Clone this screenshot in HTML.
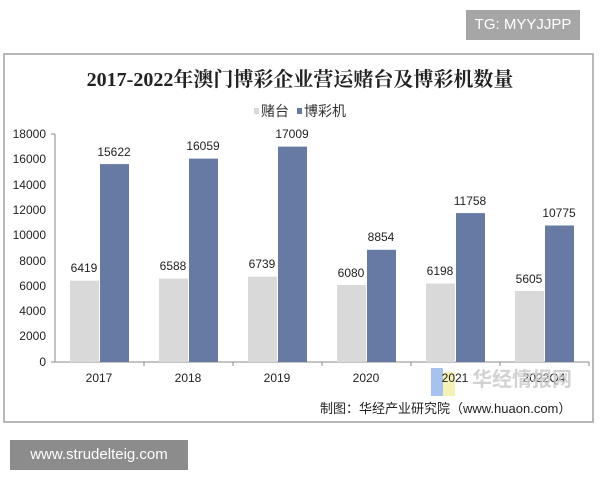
<!DOCTYPE html><html><head><meta charset="utf-8"><style>
body{margin:0;width:600px;height:480px;background:#fff;position:relative;overflow:hidden;font-family:"Liberation Sans","Noto Sans CJK SC",sans-serif}
.tg{position:absolute;left:466px;top:10px;width:114px;height:30px;background:#a6a6a6;color:#fff;font-size:15px;line-height:30px;text-align:center}
.wm{position:absolute;left:10px;top:440px;width:178px;height:30px;background:#8c8c8c;color:#fff;font-size:15px;line-height:30px;text-align:center}
</style></head><body>
<div class="tg">TG: MYYJJPP</div>
<svg width="600" height="480" style="position:absolute;left:0;top:0" font-family="Liberation Sans, Noto Sans CJK SC, sans-serif">
<rect x="4" y="54" width="589" height="368" fill="#fff" stroke="#a0a0a0" stroke-width="1.5"/>
<text x="300" y="86" text-anchor="middle" font-size="20" font-weight="bold" font-family="Liberation Serif, Noto Serif CJK SC, serif" fill="#222">2017-2022年澳门博彩企业营运赌台及博彩机数量</text>
<rect x="254" y="108" width="5" height="6" fill="#d9d9d9"/><text x="261" y="116" font-size="14" fill="#333">赌台</text>
<rect x="297" y="108" width="5" height="6" fill="#667aa3"/><text x="304" y="116" font-size="14" fill="#333">博彩机</text>
<g font-size="12" fill="#222" text-anchor="end">
<text x="46" y="138">18000</text><text x="46" y="163">16000</text><text x="46" y="189">14000</text><text x="46" y="214">12000</text><text x="46" y="239">10000</text><text x="46" y="265">8000</text><text x="46" y="290">6000</text><text x="46" y="315">4000</text><text x="46" y="340">2000</text><text x="46" y="366">0</text>
</g>
<line x1="55" y1="134" x2="55" y2="362" stroke="#888"/>
<line x1="55" y1="362" x2="589" y2="362" stroke="#888"/>
<g stroke="#888"><line x1="51" y1="134" x2="55" y2="134"/><line x1="51" y1="362" x2="55" y2="362"/>
<line x1="144" y1="362" x2="144" y2="366"/><line x1="233" y1="362" x2="233" y2="366"/><line x1="322" y1="362" x2="322" y2="366"/><line x1="411" y1="362" x2="411" y2="366"/><line x1="500" y1="362" x2="500" y2="366"/><line x1="589" y1="362" x2="589" y2="366"/></g>
<rect x="431" y="368" width="12" height="28" fill="#8fb4ea" opacity="0.8"/><rect x="443" y="372" width="12" height="24" fill="#f3eca0" opacity="0.8"/>
<g font-size="12" fill="#222" text-anchor="middle">
<rect x="70" y="280.7" width="29" height="81.3" fill="#d9d9d9"/><rect x="100" y="164.1" width="29" height="197.9" fill="#667aa3"/>
<text x="84" y="272">6419</text><text x="114" y="156">15622</text><text x="99" y="382">2017</text>
<rect x="159" y="278.6" width="29" height="83.4" fill="#d9d9d9"/><rect x="189" y="158.6" width="29" height="203.4" fill="#667aa3"/>
<text x="173" y="270">6588</text><text x="203" y="150">16059</text><text x="188" y="382">2018</text>
<rect x="248" y="276.6" width="29" height="85.4" fill="#d9d9d9"/><rect x="278" y="146.6" width="29" height="215.4" fill="#667aa3"/>
<text x="262" y="268">6739</text><text x="292" y="138">17009</text><text x="277" y="382">2019</text>
<rect x="337" y="285" width="29" height="77" fill="#d9d9d9"/><rect x="367" y="249.8" width="29" height="112.2" fill="#667aa3"/>
<text x="351" y="277">6080</text><text x="381" y="241">8854</text><text x="366" y="382">2020</text>
<rect x="426" y="283.5" width="29" height="78.5" fill="#d9d9d9"/><rect x="456" y="213.1" width="29" height="148.9" fill="#667aa3"/>
<text x="440" y="275">6198</text><text x="470" y="205">11758</text><text x="455" y="382">2021</text>
<rect x="515" y="291" width="29" height="71" fill="#d9d9d9"/><rect x="545" y="225.5" width="29" height="136.5" fill="#667aa3"/>
<text x="529" y="283">5605</text><text x="559" y="217">10775</text><text x="544" y="382">2022Q4</text>
</g>
<text x="472" y="386" font-size="20" font-weight="bold" fill="#c8c8c8" opacity="0.8">华经情报网</text>
<text x="320" y="413" font-size="13" fill="#222">制图：华经产业研究院（www.huaon.com）</text>
</svg>
<div class="wm">www.strudelteig.com</div>
</body></html>
